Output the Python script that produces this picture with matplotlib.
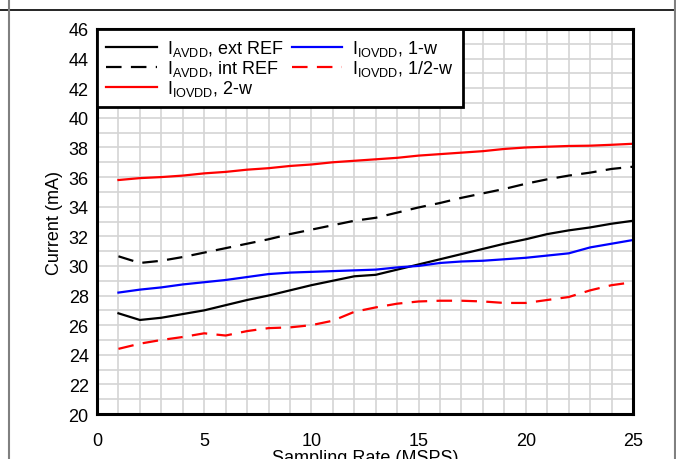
import matplotlib
matplotlib.use("Agg")
import matplotlib.pyplot as plt
from matplotlib.lines import Line2D
import numpy as np

plt.rcParams['font.family'] = ['Liberation Sans', 'DejaVu Sans']
plt.rcParams['mathtext.fontset'] = 'custom'
plt.rcParams['mathtext.rm'] = 'Liberation Sans'
plt.rcParams['mathtext.it'] = 'Liberation Sans'

rate = list(range(1, 26))
avdd_ext = [26.8, 26.35, 26.5, 26.75, 27.0, 27.35, 27.7, 28.0, 28.35, 28.7, 29.0, 29.3,
            29.4, 29.75, 30.1, 30.45, 30.8, 31.15, 31.5, 31.8, 32.15, 32.4, 32.6, 32.85, 33.05]
avdd_int = [30.65, 30.2, 30.35, 30.6, 30.9, 31.2, 31.5, 31.8, 32.15, 32.45, 32.75, 33.05,
            33.25, 33.6, 33.95, 34.25, 34.6, 34.9, 35.2, 35.55, 35.85, 36.1, 36.3, 36.55, 36.7]
iovdd_2w = [35.8, 35.93, 36.0, 36.1, 36.25, 36.35, 36.5, 36.6, 36.75, 36.85, 37.0, 37.1,
            37.2, 37.3, 37.45, 37.55, 37.65, 37.75, 37.9, 38.0, 38.05, 38.1, 38.12, 38.18, 38.25]
iovdd_1w = [28.2, 28.4, 28.55, 28.75, 28.9, 29.05, 29.25, 29.45, 29.55, 29.6, 29.65, 29.7,
            29.75, 29.9, 30.0, 30.2, 30.3, 30.35, 30.45, 30.55, 30.7, 30.85, 31.25, 31.5, 31.75]
iovdd_half = [24.4, 24.75, 25.0, 25.2, 25.45, 25.3, 25.6, 25.8, 25.85, 26.0, 26.3, 26.9,
              27.2, 27.45, 27.6, 27.65, 27.65, 27.6, 27.5, 27.5, 27.7, 27.9, 28.35, 28.7, 28.9]

labels = [r'I$_{\mathrm{AVDD}}$, ext REF', r'I$_{\mathrm{AVDD}}$, int REF',
          r'I$_{\mathrm{IOVDD}}$, 2-w', r'I$_{\mathrm{IOVDD}}$, 1-w',
          r'I$_{\mathrm{IOVDD}}$, 1/2-w']
xticks = [0, 5, 10, 15, 20, 25]
yticks = list(range(20, 47, 2))

FS = 13

fig = plt.figure(figsize=(6.76, 4.60), dpi=100)
ax = fig.add_axes([0.1435, 0.0978, 0.7929, 0.837])

dash = (7, 4.2)
ax.plot(rate, avdd_ext, color='black', lw=1.6, label=labels[0])
ax.plot(rate, avdd_int, color='black', lw=1.6, ls=(0, dash), label=labels[1])
ax.plot(rate, iovdd_2w, color='#ff0000', lw=1.6, label=labels[2])
ax.plot(rate, iovdd_1w, color='#0000ff', lw=1.6, label=labels[3])
ax.plot(rate, iovdd_half, color='#ff0000', lw=1.6, ls=(0, dash), label=labels[4])

ax.set_xlim(0, 25)
ax.set_ylim(20, 46)
ax.set_xticks(xticks)
ax.set_yticks(yticks)
ax.set_xticks(np.arange(0, 26, 1), minor=True)
ax.set_yticks(np.arange(20, 47, 1), minor=True)
ax.grid(True, which='both', color='#d4d4d4', lw=1.2)
ax.set_axisbelow(True)
ax.tick_params(which='both', length=0)
ax.tick_params(axis='y', pad=6, labelsize=FS)
ax.tick_params(axis='x', pad=13, labelsize=FS)
for s in ax.spines.values():
    s.set_linewidth(2.2)
    s.set_color('black')

ax.set_xlabel('Sampling Rate (MSPS)', fontsize=FS, labelpad=0)
ax.set_ylabel('Current (mA)', fontsize=FS, labelpad=4)

leg = ax.legend(loc='upper left', ncol=2, fontsize=FS, frameon=True, fancybox=False,
                edgecolor='black', framealpha=1, borderaxespad=0, handlelength=2.8,
                handletextpad=0.55, columnspacing=0.45, labelspacing=0.0,
                borderpad=0.5)
leg.get_frame().set_linewidth(2.0)

fig.add_artist(Line2D([0, 1], [1 - 11 / 460, 1 - 11 / 460], transform=fig.transFigure,
                      color='black', lw=1.2))
fig.add_artist(Line2D([9 / 676, 9 / 676], [0, 1], transform=fig.transFigure,
                      color='#808080', lw=1.5))
fig.add_artist(Line2D([675 / 676, 675 / 676], [0, 1], transform=fig.transFigure,
                      color='#808080', lw=1.5))

fig.savefig('out.png', dpi=100)
